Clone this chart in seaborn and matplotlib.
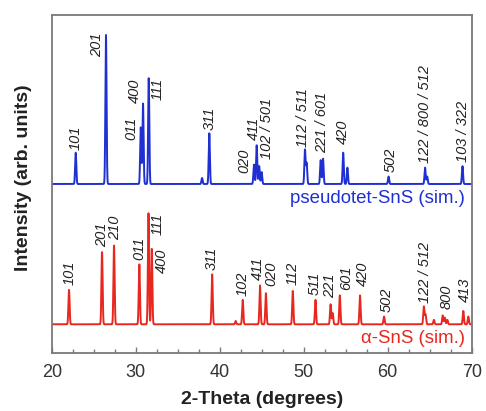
import numpy as np
import pandas as pd
import matplotlib
matplotlib.use("Agg")
import matplotlib.pyplot as plt
import seaborn as sns
from matplotlib.ticker import MultipleLocator

# ---------------- data ----------------
# pseudotetragonal SnS (blue) peak positions (2-theta) and relative intensities
blue_pos = [22.86, 26.46, 30.60, 30.87, 31.55, 37.90, 38.76, 44.08, 44.40, 44.70,
            44.99, 50.15, 50.35, 52.02, 52.30, 54.70, 55.20, 60.10, 64.45, 64.70, 68.90]
blue_int = [0.21, 1.00, 0.38, 0.54, 0.71, 0.04, 0.34, 0.13, 0.26, 0.12,
            0.08, 0.23, 0.14, 0.16, 0.17, 0.21, 0.11, 0.05, 0.11, 0.05, 0.12]
blue_labels = ['101', '201', '011', '400', '111', '311', '020', '411', '102 / 501',
               '112 / 511', '221 / 601', '420', '502', '122 / 800 / 512', '103 / 322']
blue_label_peak = [0, 1, 2, 3, 4, 6, 7, 8, 9, 11, 13, 15, 17, 18, 20]

# alpha-SnS (red)
red_pos = [22.06, 25.99, 27.42, 30.43, 31.52, 31.91, 39.10, 41.90, 42.74, 44.80,
           45.50, 48.70, 51.40, 53.20, 53.45, 54.30, 56.70, 59.56, 64.30, 64.50,
           65.50, 66.55, 66.80, 67.10, 69.00, 69.60]
red_int = [0.31, 0.65, 0.71, 0.54, 1.00, 0.68, 0.45, 0.03, 0.22, 0.35,
           0.28, 0.30, 0.22, 0.18, 0.10, 0.26, 0.26, 0.07, 0.16, 0.09,
           0.04, 0.08, 0.06, 0.04, 0.12, 0.07]
red_labels = ['101', '201', '210', '011', '111', '400', '311', '102', '411', '020',
              '112', '511', '221', '601', '420', '502', '122 / 512', '800', '413']
red_label_peak = [0, 1, 2, 3, 4, 5, 6, 8, 9, 10, 11, 12, 13, 15, 16, 17, 18, 21, 24]

x_ticks = [20, 30, 40, 50, 60, 70]

# ---------------- style / layout ----------------
sns.set_style("white")
plt.rcParams['font.family'] = ['Liberation Sans', 'DejaVu Sans']

BLUE = '#1f30d2'
RED = '#e8281e'
GREY = '#7a7a7a'
TXT = '#222222'

# label offsets in pixels: (dx, dy, vertical alignment)
blue_off = [(0, 3, 'bottom'), (-9.3, 2, 'top'), (-9, -13, 'bottom'), (-8, 1, 'bottom'),
            (9.3, 0, 'top'), (0, 3, 'bottom'), (-10, -8, 'bottom'), (-2.7, 5, 'bottom'),
            (7.4, 7, 'bottom'), (-1.7, 3, 'bottom'), (1, 7, 'bottom'), (0, 9, 'bottom'),
            (2.3, 5, 'bottom'), (0, 5, 'bottom'), (1, 4, 'bottom')]
red_off = [(1, 5, 'bottom'), (0, 5, 'bottom'), (1, 5, 'bottom'), (0, 4, 'bottom'),
           (9.6, 0, 'top'), (10.3, 0, 'top'), (0, 4, 'bottom'), (0, 4, 'bottom'),
           (-2, 5, 'bottom'), (5.7, 7, 'bottom'), (0, 6, 'bottom'), (-0.5, 5, 'bottom'),
           (-0.5, 6, 'bottom'), (6, 5, 'bottom'), (3.3, 9, 'bottom'), (2.7, 5, 'bottom'),
           (1, 4, 'bottom'), (4, 6, 'bottom'), (1.7, 9, 'bottom')]

W, H = 486, 411
fig = plt.figure(figsize=(W / 100, H / 100), dpi=100)
ax_l, ax_r, ax_t, ax_b = 51.7, 471.7, 15.0, 352.5
ax = fig.add_axes([ax_l / W, 1 - ax_b / H, (ax_r - ax_l) / W, (ax_b - ax_t) / H])

blue_base, blue_scale = 168.5, 149.0
red_base, red_scale = 28.2, 111.0
sigma = 0.07

grid = np.arange(20.0, 70.0001, 0.005)


def pattern(pos, inten):
    y = np.zeros_like(grid)
    for p, h in zip(pos, inten):
        y += h * np.exp(-0.5 * ((grid - p) / sigma) ** 2)
    return y


df = pd.concat([
    pd.DataFrame({'two_theta': grid, 'y': blue_base + blue_scale * pattern(blue_pos, blue_int),
                  'phase': 'pseudotet'}),
    pd.DataFrame({'two_theta': grid, 'y': red_base + red_scale * pattern(red_pos, red_int),
                  'phase': 'alpha'}),
])

sns.lineplot(data=df, x='two_theta', y='y', hue='phase',
             palette={'pseudotet': BLUE, 'alpha': RED},
             linewidth=1.4, legend=False, ax=ax, estimator=None, sort=False)

ax.set_xlim(20, 70)
ax.set_ylim(0, ax_b - ax_t)
ax.set_xticks(x_ticks)
ax.xaxis.set_minor_locator(MultipleLocator(2.5))
ax.set_yticks([])
ax.set_xlabel('')
ax.set_ylabel('')
ax.tick_params(axis='x', which='major', direction='in', length=4.5, width=1.0,
               color=GREY, labelsize=13, labelcolor='#333333', pad=8, bottom=True)
ax.tick_params(axis='x', which='minor', direction='in', length=2.8, width=1.0,
               color=GREY, bottom=True)
for s in ax.spines.values():
    s.set_color(GREY)
    s.set_linewidth(1.3)


def add_labels(pos, inten, base, scale, labels, idx, offs):
    for lab, i, (dx, dy, va) in zip(labels, idx, offs):
        ax.annotate(lab, xy=(pos[i], base + scale * inten[i]),
                    xytext=(dx * 0.72, dy * 0.72), textcoords='offset points',
                    rotation=90, ha='center', va=va, fontsize=10.5, style='italic',
                    color=TXT)


add_labels(blue_pos, blue_int, blue_base, blue_scale, blue_labels, blue_label_peak, blue_off)
add_labels(red_pos, red_int, red_base, red_scale, red_labels, red_label_peak, red_off)

ax.text((465 - ax_l) / (ax_r - ax_l), (ax_b - 198) / (ax_b - ax_t), 'pseudotet-SnS (sim.)',
        transform=ax.transAxes, ha='right', va='center', fontsize=13.4, color=BLUE)
ax.text((465 - ax_l) / (ax_r - ax_l), (ax_b - 338) / (ax_b - ax_t), 'α-SnS (sim.)',
        transform=ax.transAxes, ha='right', va='center', fontsize=13.4, color=RED)

fig.text(262 / W, 1 - 399 / H, '2-Theta (degrees)', ha='center', va='center',
         fontsize=14, fontweight='bold', color=TXT)
fig.text(23 / W, 1 - 178 / H, 'Intensity (arb. units)', rotation=90, ha='center',
         va='center', fontsize=14, fontweight='bold', color=TXT)

fig.savefig('out.png', dpi=100)
